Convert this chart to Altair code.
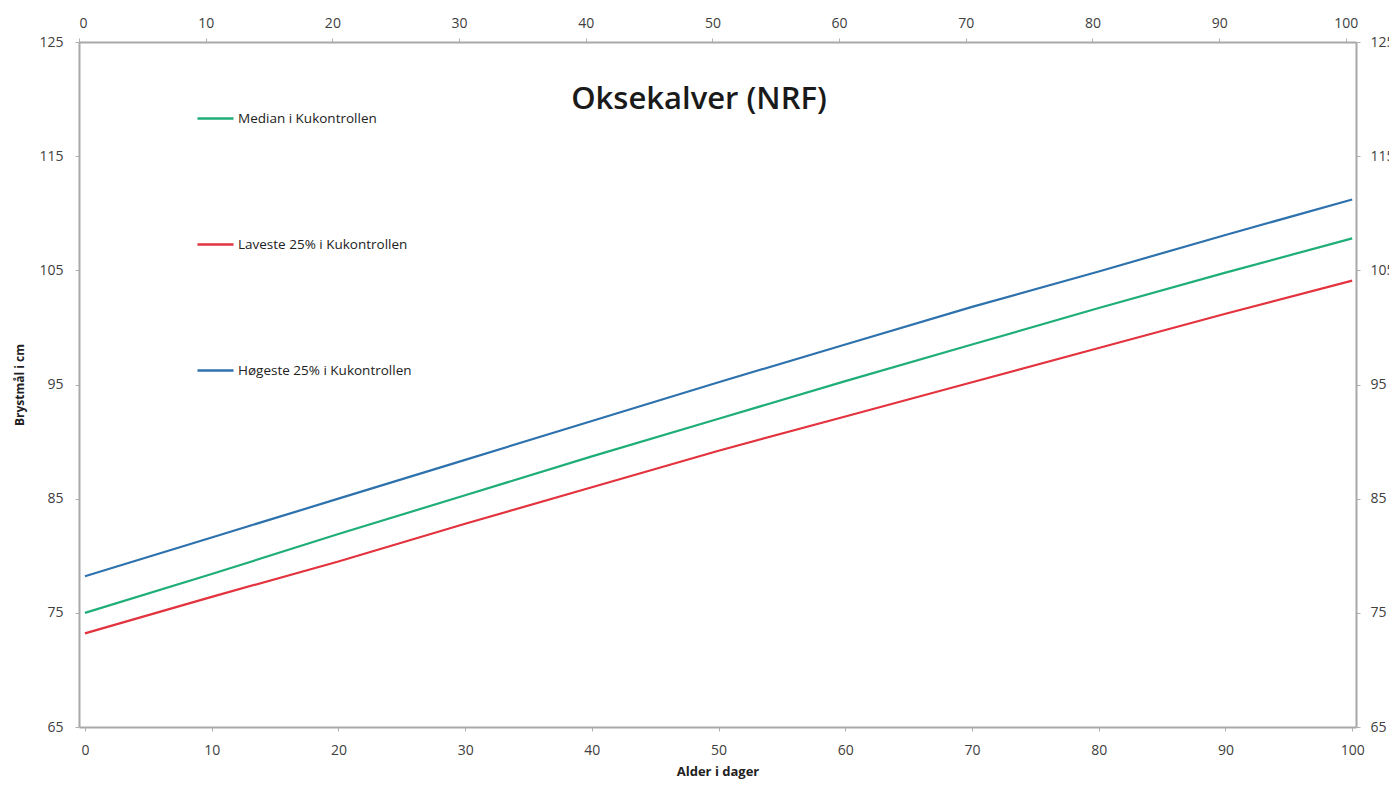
import altair as alt
import pandas as pd

ages = [0, 10, 20, 30, 40, 50, 60, 70, 80, 90, 100]
median = [75.0, 78.4, 81.9, 85.3, 88.7, 92.0, 95.3, 98.5, 101.7, 104.8, 107.8]
lowest = [73.2, 76.4, 79.5, 82.8, 86.0, 89.2, 92.2, 95.2, 98.2, 101.2, 104.1]
highest = [78.2, 81.6, 85.0, 88.4, 91.8, 95.2, 98.5, 101.8, 104.9, 108.1, 111.2]

series_names = ["Median i Kukontrollen", "Laveste 25% i Kukontrollen", "Høgeste 25% i  Kukontrollen"]
series_colors = ["#1fae78", "#e2333e", "#2e72ad"]
y_ticks = [65, 75, 85, 95, 105, 115, 125]
x_ticks = list(range(0, 101, 10))
title_text = "Oksekalver (NRF)"

rows = []
for name, vals in zip(series_names, [median, lowest, highest]):
    for a, v in zip(ages, vals):
        rows.append({"age": a, "value": v, "series": name})
df = pd.DataFrame(rows)

FONT = "Open Sans"

lines = alt.Chart(df).mark_line(strokeWidth=2.2).encode(
    x=alt.X("age:Q",
            scale=alt.Scale(domain=[-0.47, 100.3], nice=False, zero=False),
            axis=alt.Axis(orient="bottom", values=x_ticks, title="Alder i dager",
                          titleFontWeight="bold", titleFontSize=13, titlePadding=8,
                          labelPadding=12)),
    y=alt.Y("value:Q",
            scale=alt.Scale(domain=[65, 125], nice=False, zero=False),
            axis=alt.Axis(orient="left", values=y_ticks, title="Brystmål i cm",
                          titleFontWeight="bold", titleFontSize=12, titlePadding=12,
                          labelPadding=12)),
    color=alt.Color("series:N",
                    scale=alt.Scale(domain=series_names, range=series_colors),
                    legend=alt.Legend(title=None, orient="none", legendX=117, legendY=57,
                                      symbolType="stroke", symbolSize=1300,
                                      symbolStrokeWidth=2.5, rowPadding=100,
                                      labelFont=FONT, labelFontSize=13.5,
                                      labelColor="#222222", labelOffset=3,
                                      labelLimit=400)),
    order=alt.Order("age:Q"),
)

ghost = alt.Chart(df).mark_point(opacity=0).encode(
    x=alt.X("age:Q",
            scale=alt.Scale(domain=[0, 100.8], nice=False, zero=False),
            axis=alt.Axis(orient="top", values=x_ticks, title=None, labelPadding=8)),
    y=alt.Y("value:Q",
            scale=alt.Scale(domain=[65, 125], nice=False, zero=False),
            axis=alt.Axis(orient="right", values=y_ticks, title=None, labelPadding=10)),
)

title = alt.Chart(pd.DataFrame({"t": [title_text]})).mark_text(
    font=FONT, fontSize=31, fontWeight=600, color="#1a1a1a", align="center", baseline="middle"
).encode(text="t:N", x=alt.value(620), y=alt.value(58))

chart = alt.layer(lines, ghost, title).resolve_scale(
    x="independent", y="independent"
).properties(
    width=1277, height=685,
    autosize=alt.AutoSizeParams(type="none"),
    padding={"left": 71, "top": 34, "right": 33, "bottom": 55},
).configure_view(stroke=None).configure_axis(
    grid=False, domainColor="#a8a8a8", domainWidth=2, tickColor="#b0b0b0",
    tickSize=4, labelFont=FONT, labelFontSize=14, labelColor="#404040",
    titleFont=FONT, titleColor="#222222",
)

chart.save("out.html", embed_options={"renderer": "svg", "actions": False})
